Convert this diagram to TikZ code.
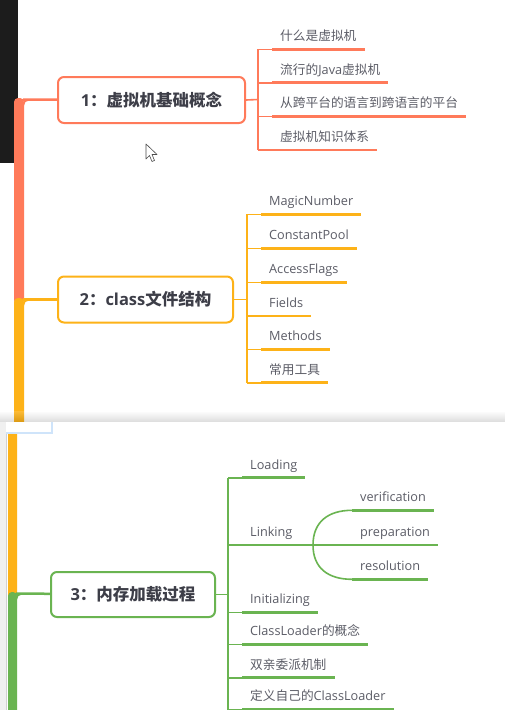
\documentclass[tikz,border=0pt]{standalone}
\usepackage{fontspec}
\setmainfont{Open Sans}
\newfontfamily\cjk{Noto Sans CJK SC}
\usepackage{tikz}
\usetikzlibrary{positioning}
\definecolor{vmred}{HTML}{FF7A5A}
\definecolor{clsyellow}{HTML}{FDB218}
\definecolor{ldgreen}{HTML}{6AB451}
\definecolor{titletext}{HTML}{3D3E48}
\definecolor{leaftext}{HTML}{5C5D67}
\definecolor{glowblue}{HTML}{CFE4FA}
\tikzset{
  topic/.style={draw=#1, line width=2pt, rounded corners=6pt, fill=white,
    minimum height=46pt, inner sep=0pt, text=titletext,
    font=\fontsize{16.5}{18}\selectfont\bfseries},
  leaf/.style={anchor=south west, inner xsep=8pt, inner ysep=8.5pt,
    text depth=0pt, text=leaftext, font=\fontsize{12.7}{14}\selectfont},
  stem/.style={draw=#1, line width=1.6pt},
  uline/.style={draw=#1, line width=2.8pt},
  trunk/.style={fill=#1, rounded corners=4pt},
}

\begin{document}
\begin{tikzpicture}[x=1pt, y=-1pt]
      \useasboundingbox (0,0) rectangle (505,710);
      \fill[white] (0,0) rectangle (505,710);
      \fill[black!89] (0,0) rectangle (18,163);
      % upper trunk
      \fill[trunk=vmred] (14,98) rectangle (24,304);
      \fill[trunk=clsyellow] (14,298) rectangle (24,430);
      \fill[vmred] (24,100.5) -- (29,100.5) arc[start angle=270, end angle=180, radius=5] -- cycle;
      \fill[clsyellow] (24,300.5) -- (29,300.5) arc[start angle=270, end angle=180, radius=5] -- cycle;
      \coordinate (vmroot) at (23,99.5);
      \coordinate (clsroot) at (23,299.5);

      % 1: virtual machine
      \node[topic=vmred, minimum width=187pt] (vm) at (151.5,100) {1{\cjk ：虚拟机基础概念}};
      \draw[vmred, line width=2.5pt] (vmroot) -- (vm);
      \coordinate (vmfork) at (258,99.5);
      \draw[stem=vmred] (vm.east) -- (vmfork);
      \node[leaf] (whatvm) at (272,49.3) {\cjk 什么是虚拟机};
      \node[leaf] (javavm) at (272,82.7) {{\cjk 流行的}Java{\cjk 虚拟机}};
      \node[leaf] (xplat) at (272,116.3) {\cjk 从跨平台的语言到跨语言的平台};
      \node[leaf] (vmsys) at (272,150) {\cjk 虚拟机知识体系};
      \draw[stem=vmred] (vmfork |- whatvm.south) -- (vmfork |- vmsys.south);
      \draw[stem=vmred] (vmfork |- whatvm.south) -- (whatvm.south west);
      \draw[stem=vmred] (vmfork |- javavm.south) -- (javavm.south west);
      \draw[stem=vmred] (vmfork |- xplat.south) -- (xplat.south west);
      \draw[stem=vmred] (vmfork |- vmsys.south) -- (vmsys.south west);
      \draw[uline=vmred] (whatvm.south west) -- (whatvm.south east);
      \draw[uline=vmred] (javavm.south west) -- (javavm.south east);
      \draw[uline=vmred] (xplat.south west) -- (xplat.south east);
      \draw[uline=vmred] (vmsys.south west) -- (vmsys.south east);

      % mouse pointer
      \filldraw[fill=white, draw=black!70, line width=0.6pt, line join=round]
        (146,144) -- (146,159) -- (149.5,155.5) -- (152,161.5) -- (154.5,160.5)
        -- (152,154.5) -- (157,154.5) -- cycle;

      % 2: class file
      \node[topic=clsyellow, minimum width=175pt] (cls) at (145.5,299.5) {2{\cjk ：}class{\cjk 文件结构}};
      \draw[clsyellow, line width=2.5pt] (clsroot) -- (cls);
      \coordinate (clsfork) at (247,299.5);
      \draw[stem=clsyellow] (cls.east) -- (clsfork);
      \node[leaf] (magic) at (261,214.3) {MagicNumber};
      \node[leaf] (cpool) at (261,248.3) {ConstantPool};
      \node[leaf] (aflags) at (261,282.3) {AccessFlags};
      \node[leaf] (fields) at (261,316) {Fields};
      \node[leaf] (methods) at (261,349.3) {Methods};
      \node[leaf] (tools) at (261,382.7) {\cjk 常用工具};
      \draw[stem=clsyellow] (clsfork |- magic.south) -- (clsfork |- tools.south);
      \draw[stem=clsyellow] (clsfork |- magic.south) -- (magic.south west);
      \draw[stem=clsyellow] (clsfork |- cpool.south) -- (cpool.south west);
      \draw[stem=clsyellow] (clsfork |- aflags.south) -- (aflags.south west);
      \draw[stem=clsyellow] (clsfork |- fields.south) -- (fields.south west);
      \draw[stem=clsyellow] (clsfork |- methods.south) -- (methods.south west);
      \draw[stem=clsyellow] (clsfork |- tools.south) -- (tools.south west);
      \draw[uline=clsyellow] (magic.south west) -- (magic.south east);
      \draw[uline=clsyellow] (cpool.south west) -- (cpool.south east);
      \draw[uline=clsyellow] (aflags.south west) -- (aflags.south east);
      \draw[uline=clsyellow] (fields.south west) -- (fields.south east);
      \draw[uline=clsyellow] (methods.south west) -- (methods.south east);
      \draw[uline=clsyellow] (tools.south west) -- (tools.south east);

      % second window on top
      \shade[top color=white, bottom color=black, opacity=0.13] (0,411) rectangle (505,421.5);
      \fill[white] (6,421.5) rectangle (505,712);
      \fill[black!6] (0,421.5) rectangle (5.5,710);
      \draw[black!18] (5.8,421.5) -- (5.8,710);
      \fill[trunk=clsyellow] (8,425) rectangle (17,600);
      \fill[trunk=ldgreen] (8,592) rectangle (17,720);
      \fill[ldgreen] (17,594.5) -- (22,594.5) arc[start angle=270, end angle=180, radius=5] -- cycle;
      \fill[white] (6,422) rectangle (52,433);
      \draw[glowblue, line width=1.2pt] (52,422) -- (52,433) -- (6,433);
      \coordinate (ldroot) at (16,593.5);

      % 3: class loading
      \node[topic=ldgreen, minimum width=164pt, minimum height=45pt] (load) at (133,594.5) {3{\cjk ：内存加载过程}};
      \draw[ldgreen, line width=2.5pt] (ldroot) -- (load);
      \coordinate (ldfork) at (228,594.5);
      \draw[stem=ldgreen] (load.east) -- (ldfork);
      \node[leaf] (loading) at (242,477.7) {Loading};
      \node[leaf] (linking) at (242,545) {Linking};
      \node[leaf] (init) at (242,612.3) {Initializing};
      \node[leaf] (cldef) at (242,644.3) {ClassLoader{\cjk 的概念}};
      \node[leaf] (parent) at (242,677.7) {\cjk 双亲委派机制};
      \node[leaf] (owncl) at (242,709.3) {{\cjk 定义自己的}ClassLoader};
      \draw[stem=ldgreen] (ldfork |- loading.south) -- (ldfork |- 0,720);
      \draw[stem=ldgreen] (ldfork |- loading.south) -- (loading.south west);
      \draw[stem=ldgreen] (ldfork |- linking.south) -- (linking.south west);
      \draw[stem=ldgreen] (ldfork |- init.south) -- (init.south west);
      \draw[stem=ldgreen] (ldfork |- cldef.south) -- (cldef.south west);
      \draw[stem=ldgreen] (ldfork |- parent.south) -- (parent.south west);
      \draw[stem=ldgreen] (ldfork |- owncl.south) -- (owncl.south west);
      \draw[uline=ldgreen] (loading.south west) -- (loading.south east);
      \draw[uline=ldgreen] (init.south west) -- (init.south east);
      \draw[uline=ldgreen] (cldef.south west) -- (cldef.south east);
      \draw[uline=ldgreen] (parent.south west) -- (parent.south east);
      \draw[uline=ldgreen] (owncl.south west) -- (owncl.south east);

      % linking steps
      \coordinate (lkfork) at (313,545);
      \draw[uline=ldgreen] (linking.south west) -- (lkfork);
      \node[leaf] (verif) at (352,510.3) {verification};
      \node[leaf] (prep) at (352,545) {preparation};
      \node[leaf] (resol) at (352,579.3) {resolution};
      \draw[stem=ldgreen] (lkfork) .. controls (313,522) and (328,510.3) .. (verif.south west);
      \draw[stem=ldgreen] (lkfork) .. controls (313,568) and (328,579.3) .. (resol.south west);
      \draw[stem=ldgreen] (lkfork) -- (prep.south west);
      \draw[uline=ldgreen] (verif.south west) -- (verif.south east);
      \draw[uline=ldgreen] (prep.south west) -- (prep.south east);
      \draw[uline=ldgreen] (resol.south west) -- (resol.south east);
    \end{tikzpicture}
\end{document}
